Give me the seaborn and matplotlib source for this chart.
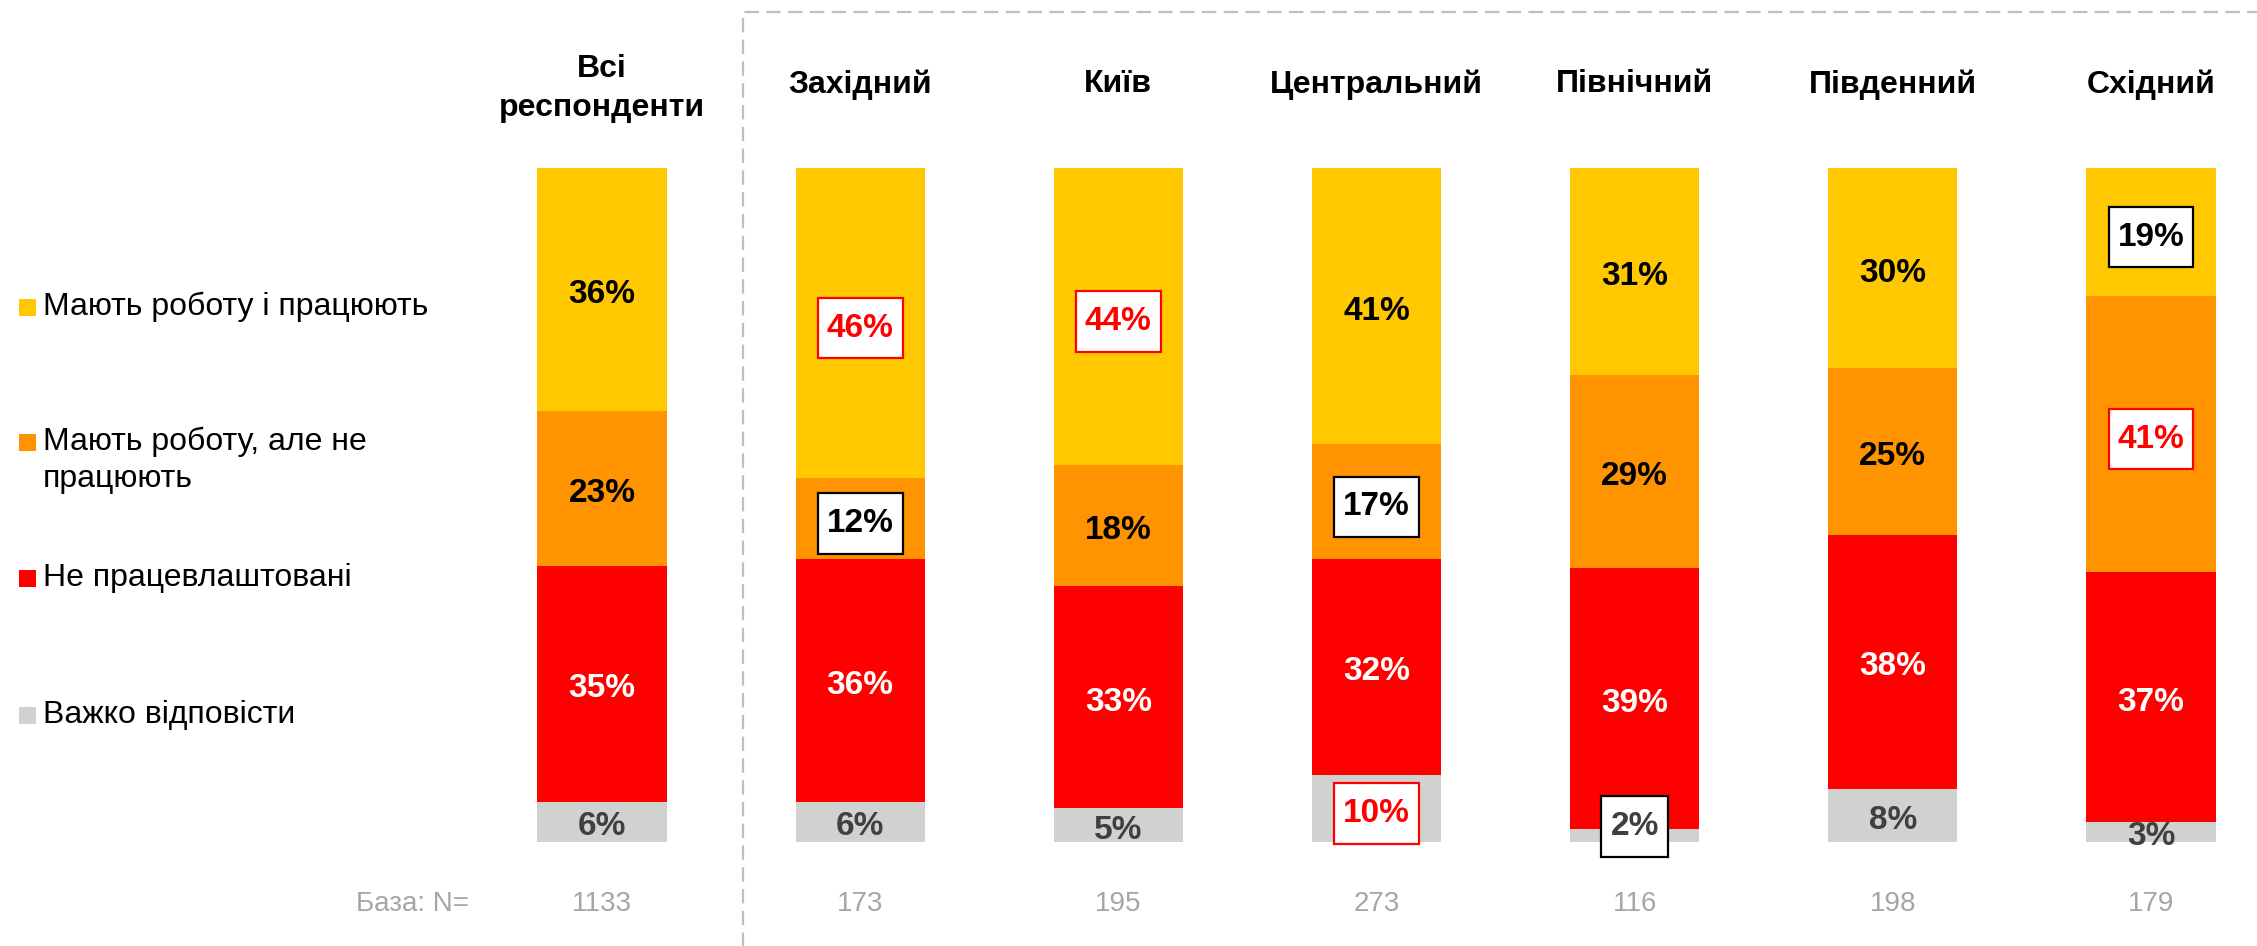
import matplotlib
matplotlib.use("Agg")
import matplotlib.pyplot as plt
import seaborn as sns
import pandas as pd
from matplotlib.patches import Rectangle
from matplotlib.lines import Line2D
from matplotlib.path import Path

# ---------------- data ----------------
categories = ["Всі\nреспонденти", "Західний", "Київ", "Центральний",
              "Північний", "Південний", "Східний"]
base_n = [1133, 173, 195, 273, 116, 198, 179]
series_names = ["Мають роботу і працюють",
                "Мають роботу, але не\nпрацюють",
                "Не працевлаштовані",
                "Важко відповісти"]
working = [36, 46, 44, 41, 31, 30, 19]        # top (yellow)
not_working = [23, 12, 18, 17, 29, 25, 41]    # orange
unemployed = [35, 36, 33, 32, 39, 38, 37]     # red
hard_to_say = [6, 6, 5, 10, 2, 8, 3]          # bottom (grey)

# highlighted (boxed) labels: (category index, series index)
boxed_red = [(1, 0), (2, 0), (3, 3), (6, 1)]
boxed_black = [(1, 1), (3, 1), (4, 3), (6, 0)]

# ---------------- style ----------------
sns.set_style("white")
plt.rcParams['font.family'] = ['Liberation Sans', 'DejaVu Sans']

colors = ["#FFC800", "#FF9400", "#FF0000", "#D0D2CF"]
label_colors = ["#000000", "#000000", "#FFFFFF", "#404040"]

W, H = 2257, 946
fig = plt.figure(figsize=(W / 100, H / 100), dpi=100)
ax = fig.add_axes([0, 0, 1, 1])


def label_box(x0, y0, width, height, mutation_size):
    px = 0.27 * mutation_size
    py = 0.44 * mutation_size
    xa, ya = x0 - px, y0 - py
    xb, yb = x0 + width + px, y0 + height + py
    return Path([(xa, ya), (xb, ya), (xb, yb), (xa, yb), (xa, ya)],
                closed=True)


# ---------------- build stacked data ----------------
series = [working, not_working, unemployed, hard_to_say]
rows = []
for i, c in enumerate(categories):
    vals = [s[i] for s in series]
    tot = sum(vals)
    norm = [v * 100.0 / tot for v in vals]
    g, r, o = norm[3], norm[2], norm[1]
    rows.append({"cat": c,
                 "top0": 100.0,
                 "top1": g + r + o,
                 "top2": g + r,
                 "top3": g,
                 "n0": norm[0], "n1": norm[1], "n2": norm[2], "n3": norm[3]})
df = pd.DataFrame(rows)

for j in range(4):
    sns.barplot(data=df, x="cat", y=f"top{j}", order=categories, color=colors[j],
                width=0.5, saturation=1, errorbar=None, linewidth=0, ax=ax)

# ---------------- axes mapping (layout) ----------------
px_unit = (2151 - 602) / 6.0
x0 = -602 / px_unit
x1 = (W - 602) / px_unit
py_unit = (842 - 168) / 100.0
y0 = -(H - 842) / py_unit
y1 = (842) / py_unit
ax.set_xlim(x0, x1)
ax.set_ylim(y0, y1)
ax.axis("off")

# ---------------- value labels ----------------
for i in range(len(categories)):
    row = df.iloc[i]
    for j in range(4):
        val = series[j][i]
        seg = row[f"n{j}"]
        top = row[f"top{j}"]
        yc = top - seg / 2.0 - 0.75
        kw = dict(ha="center", va="center", fontsize=24, fontweight="bold",
                  color=label_colors[j])
        if (i, j) in boxed_red:
            kw["color"] = "#FF0000"
            kw["bbox"] = dict(boxstyle=label_box, fc="white",
                              ec="#FF0000", lw=1.6)
        elif (i, j) in boxed_black:
            kw["color"] = "#404040" if j == 3 else "#000000"
            kw["bbox"] = dict(boxstyle=label_box, fc="white",
                              ec="#000000", lw=1.6)
            if j == 3:
                yc += 2.05
        ax.text(i, yc, f"{val}%", **kw)

# ---------------- headers ----------------
for i, c in enumerate(categories):
    yh = 112.4 if "\n" not in c else 111.8
    ax.text(i, yh, c, ha="center", va="center", fontsize=23,
            fontweight="bold", color="black", linespacing=1.4)

# ---------------- base row ----------------
ax.text((412 - 602) / px_unit, -9.2, "База: N=", ha="center", va="center",
        fontsize=20, color="#A6A6A6")
for i, n in enumerate(base_n):
    ax.text(i, -9.2, str(n), ha="center", va="center", fontsize=20,
            color="#A6A6A6")

# ---------------- dashed frame ----------------
xd = (743 - 602) / px_unit
yd = (842 - 12) / py_unit
ax.add_line(Line2D([xd, xd, x1 + 1], [y0 - 1, yd, yd], color="#BFBFBF",
                   lw=1.6, linestyle=(0, (6.5, 3.3)), clip_on=False))

# ---------------- legend (manual) ----------------
leg_y = [307, 443, 578, 715]
for j, name in enumerate(series_names):
    yc = 1 - leg_y[j] / H
    fig.patches.append(Rectangle((19 / W, yc - 8.5 / H), 17 / W, 17 / H,
                                 transform=fig.transFigure, fc=colors[j],
                                 ec="none"))
    n_lines = name.count("\n") + 1
    if n_lines == 1:
        fig.text(43 / W, yc, name, ha="left", va="center", fontsize=23,
                 color="black")
    else:
        fig.text(43 / W, yc + 16 / H, name, ha="left", va="top", fontsize=23,
                 color="black", linespacing=1.3)

fig.savefig("out.png", dpi=100)
